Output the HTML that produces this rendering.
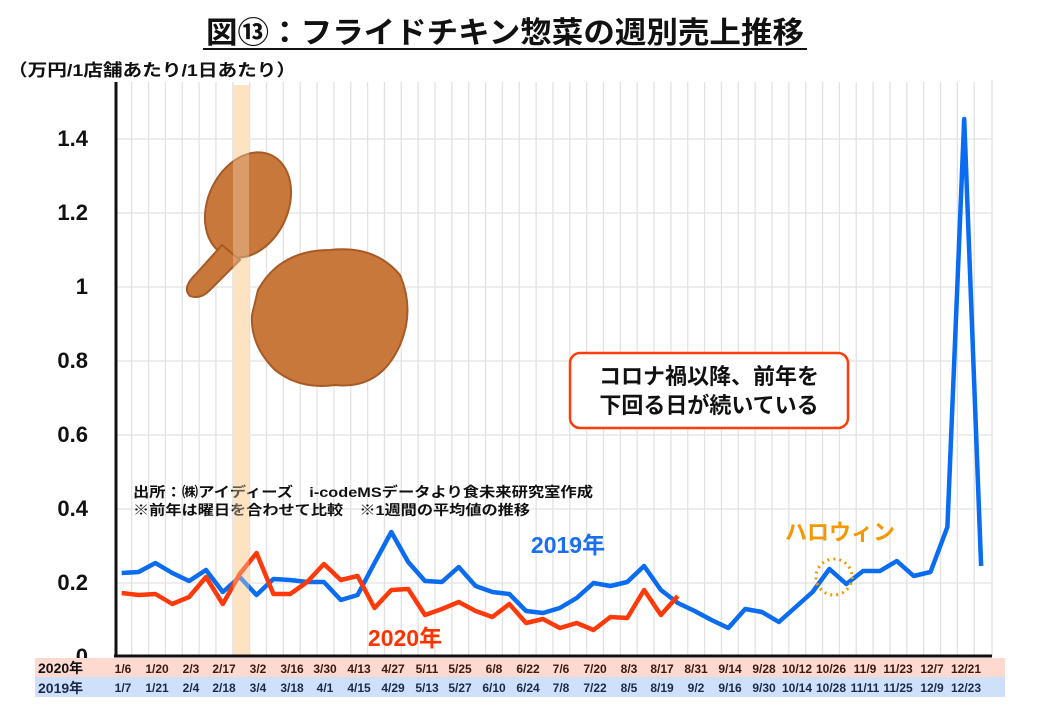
<!DOCTYPE html>
<html><head><meta charset="utf-8"><style>
body{margin:0;background:#fff;width:1040px;height:720px;overflow:hidden;font-family:"Liberation Sans","Noto Sans CJK JP",sans-serif}
</style></head><body>
<svg width="1040" height="720" viewBox="0 0 1040 720" xmlns="http://www.w3.org/2000/svg" font-family="Liberation Sans, Noto Sans CJK JP, sans-serif">
<rect width="1040" height="720" fill="#fff"/>
<text x="505" y="43" text-anchor="middle" font-size="30" font-weight="bold" fill="#111" textLength="598" lengthAdjust="spacingAndGlyphs">図⑬：フライドチキン惣菜の週別売上推移</text>
<line x1="203" y1="49" x2="807" y2="49" stroke="#111" stroke-width="2"/>
<text x="8" y="76" font-size="17" font-weight="bold" fill="#111" textLength="288" lengthAdjust="spacingAndGlyphs">（万円/1店舗あたり/1日あたり）</text>
<g stroke="#e2e2e2" stroke-width="1.3">
<line x1="131.7" y1="82" x2="131.7" y2="655"/><line x1="148.55" y1="82" x2="148.55" y2="655"/><line x1="165.4" y1="82" x2="165.4" y2="655"/><line x1="182.25" y1="82" x2="182.25" y2="655"/><line x1="199.1" y1="82" x2="199.1" y2="655"/><line x1="215.95" y1="82" x2="215.95" y2="655"/><line x1="232.8" y1="82" x2="232.8" y2="655"/><line x1="249.65" y1="82" x2="249.65" y2="655"/><line x1="266.5" y1="82" x2="266.5" y2="655"/><line x1="283.35" y1="82" x2="283.35" y2="655"/><line x1="300.2" y1="82" x2="300.2" y2="655"/><line x1="317.05" y1="82" x2="317.05" y2="655"/><line x1="333.9" y1="82" x2="333.9" y2="655"/><line x1="350.75" y1="82" x2="350.75" y2="655"/><line x1="367.6" y1="82" x2="367.6" y2="655"/><line x1="384.45" y1="82" x2="384.45" y2="655"/><line x1="401.3" y1="82" x2="401.3" y2="655"/><line x1="418.15" y1="82" x2="418.15" y2="655"/><line x1="435" y1="82" x2="435" y2="655"/><line x1="451.85" y1="82" x2="451.85" y2="655"/><line x1="468.7" y1="82" x2="468.7" y2="655"/><line x1="485.55" y1="82" x2="485.55" y2="655"/><line x1="502.4" y1="82" x2="502.4" y2="655"/><line x1="519.25" y1="82" x2="519.25" y2="655"/><line x1="536.1" y1="82" x2="536.1" y2="655"/><line x1="552.95" y1="82" x2="552.95" y2="655"/><line x1="569.8" y1="82" x2="569.8" y2="655"/><line x1="586.65" y1="82" x2="586.65" y2="655"/><line x1="603.5" y1="82" x2="603.5" y2="655"/><line x1="620.35" y1="82" x2="620.35" y2="655"/><line x1="637.2" y1="82" x2="637.2" y2="655"/><line x1="654.05" y1="82" x2="654.05" y2="655"/><line x1="670.9" y1="82" x2="670.9" y2="655"/><line x1="687.75" y1="82" x2="687.75" y2="655"/><line x1="704.6" y1="82" x2="704.6" y2="655"/><line x1="721.45" y1="82" x2="721.45" y2="655"/><line x1="738.3" y1="82" x2="738.3" y2="655"/><line x1="755.15" y1="82" x2="755.15" y2="655"/><line x1="772" y1="82" x2="772" y2="655"/><line x1="788.85" y1="82" x2="788.85" y2="655"/><line x1="805.7" y1="82" x2="805.7" y2="655"/><line x1="822.55" y1="82" x2="822.55" y2="655"/><line x1="839.4" y1="82" x2="839.4" y2="655"/><line x1="856.25" y1="82" x2="856.25" y2="655"/><line x1="873.1" y1="82" x2="873.1" y2="655"/><line x1="889.95" y1="82" x2="889.95" y2="655"/><line x1="906.8" y1="82" x2="906.8" y2="655"/><line x1="923.65" y1="82" x2="923.65" y2="655"/><line x1="940.5" y1="82" x2="940.5" y2="655"/><line x1="957.35" y1="82" x2="957.35" y2="655"/><line x1="974.2" y1="82" x2="974.2" y2="655"/><line x1="992" y1="80" x2="992" y2="656"/>
<line x1="115" y1="139" x2="992" y2="139"/><line x1="115" y1="213" x2="992" y2="213"/><line x1="115" y1="287" x2="992" y2="287"/><line x1="115" y1="361" x2="992" y2="361"/><line x1="115" y1="435" x2="992" y2="435"/><line x1="115" y1="509" x2="992" y2="509"/><line x1="115" y1="583" x2="992" y2="583"/>
</g>
<rect x="233" y="85" width="16" height="572" fill="#fde3c2"/>
<g font-size="22" font-weight="bold" fill="#111" text-anchor="end">
<text x="88" y="146">1.4</text><text x="88" y="220">1.2</text><text x="88" y="294">1</text><text x="88" y="368">0.8</text><text x="88" y="442">0.6</text><text x="88" y="516">0.4</text><text x="88" y="590">0.2</text><text x="88" y="664">0</text>
</g>
<g fill="#c8783a" stroke="#a85a26" stroke-width="2">
<ellipse cx="248" cy="205" rx="40" ry="55" transform="rotate(25 248 205)"/>
<path d="M222 245 L195 275 Q182 288 190 296 Q200 300 210 290 L240 260 Z"/>
<path d="M258 290 Q280 250 330 250 Q375 245 400 275 Q415 310 400 345 Q380 390 335 385 Q300 390 275 370 Q250 345 252 315 Z"/>
</g>
<g font-size="14" font-weight="bold" fill="#111">
<text x="133" y="497" textLength="460" lengthAdjust="spacingAndGlyphs">出所：㈱アイディーズ　i-codeMSデータより食未来研究室作成</text>
<text x="133" y="515" textLength="397" lengthAdjust="spacingAndGlyphs">※前年は曜日を合わせて比較　※1週間の平均値の推移</text>
</g>
<rect x="570" y="353" width="278" height="75" rx="10" fill="#fff" stroke="#ff3c0a" stroke-width="2.5"/>
<g font-size="22" font-weight="bold" fill="#111" text-anchor="middle">
<text x="709" y="384">コロナ禍以降、前年を</text><text x="709" y="413">下回る日が続いている</text>
</g>
<polyline fill="none" stroke="#0a6cf0" stroke-width="4.5" stroke-linejoin="round" points="121.7,573 138.6,572 155.4,563 172.3,573 189.1,581 206,570 222.8,592 239.7,577 256.5,595 273.4,579 290.2,580 307.1,582 323.9,582 340.8,600 357.6,595 374.5,563 391.3,532 408.2,562 425,581 441.9,582 458.7,567 475.6,586 492.4,592 509.3,594 526.1,611 543,613 559.8,608 576.7,598 593.5,583 610.4,586 627.2,582 644.1,566 660.9,590 677.8,603 694.6,611 711.5,620 728.3,628 745.2,609 762,612 778.9,622 795.7,607 812.6,592 829.4,569 846.3,584 863.1,571 880,571 896.8,561 913.7,576 930.5,572 947.4,527 964.2,119 981.1,566"/>
<polyline fill="none" stroke="#ff3a0a" stroke-width="4.5" stroke-linejoin="round" points="121.7,593 138.6,595 155.4,594 172.3,604 189.1,597 206,577 222.8,604 239.7,574 256.5,553 273.4,594 290.2,594 307.1,582 323.9,564 340.8,580 357.6,576 374.5,608 391.3,590 408.2,589 425,615 441.9,609 458.7,602 475.6,611 492.4,617 509.3,604 526.1,623 543,619 559.8,628 576.7,623 593.5,630 610.4,617 627.2,618 644.1,590 660.9,615 677.8,596"/>
<rect x="233" y="85" width="16" height="572" fill="#fde3c2" opacity="0.35"/>
<text x="568" y="553" text-anchor="middle" font-size="23" font-weight="bold" fill="#1a6ff0">2019年</text>
<text x="405" y="646" text-anchor="middle" font-size="23" font-weight="bold" fill="#ff3300">2020年</text>
<text x="840" y="540" text-anchor="middle" font-size="22" font-weight="bold" fill="#f39800">ハロウィン</text>
<circle cx="834" cy="577" r="18" fill="none" stroke="#f39800" stroke-width="3" stroke-dasharray="2 4"/>
<line x1="116" y1="82" x2="116" y2="657" stroke="#111" stroke-width="3"/>
<line x1="114" y1="656" x2="992" y2="656" stroke="#111" stroke-width="3"/>
<rect x="35" y="658" width="970" height="19" fill="#fdd9d0"/>
<rect x="35" y="677" width="970" height="20" fill="#cfe1fa"/>
<text x="38" y="673" font-size="14" font-weight="bold" fill="#111">2020年</text>
<text x="38" y="693" font-size="14" font-weight="bold" fill="#1a2a4a">2019年</text>
<g font-size="12" font-weight="bold" text-anchor="middle" fill="#3a1a10">
<text x="123" y="673">1/6</text><text x="157" y="673">1/20</text><text x="191" y="673">2/3</text><text x="224" y="673">2/17</text><text x="258" y="673">3/2</text><text x="292" y="673">3/16</text><text x="325" y="673">3/30</text><text x="359" y="673">4/13</text><text x="393" y="673">4/27</text><text x="427" y="673">5/11</text><text x="460" y="673">5/25</text><text x="494" y="673">6/8</text><text x="528" y="673">6/22</text><text x="561" y="673">7/6</text><text x="595" y="673">7/20</text><text x="629" y="673">8/3</text><text x="662" y="673">8/17</text><text x="696" y="673">8/31</text><text x="730" y="673">9/14</text><text x="764" y="673">9/28</text><text x="797" y="673">10/12</text><text x="831" y="673">10/26</text><text x="865" y="673">11/9</text><text x="898" y="673">11/23</text><text x="932" y="673">12/7</text><text x="966" y="673">12/21</text>
</g>
<g font-size="12" font-weight="bold" text-anchor="middle" fill="#1a2a4a">
<text x="123" y="692">1/7</text><text x="157" y="692">1/21</text><text x="191" y="692">2/4</text><text x="224" y="692">2/18</text><text x="258" y="692">3/4</text><text x="292" y="692">3/18</text><text x="325" y="692">4/1</text><text x="359" y="692">4/15</text><text x="393" y="692">4/29</text><text x="427" y="692">5/13</text><text x="460" y="692">5/27</text><text x="494" y="692">6/10</text><text x="528" y="692">6/24</text><text x="561" y="692">7/8</text><text x="595" y="692">7/22</text><text x="629" y="692">8/5</text><text x="662" y="692">8/19</text><text x="696" y="692">9/2</text><text x="730" y="692">9/16</text><text x="764" y="692">9/30</text><text x="797" y="692">10/14</text><text x="831" y="692">10/28</text><text x="865" y="692">11/11</text><text x="898" y="692">11/25</text><text x="932" y="692">12/9</text><text x="966" y="692">12/23</text>
</g>
</svg>
</body></html>
